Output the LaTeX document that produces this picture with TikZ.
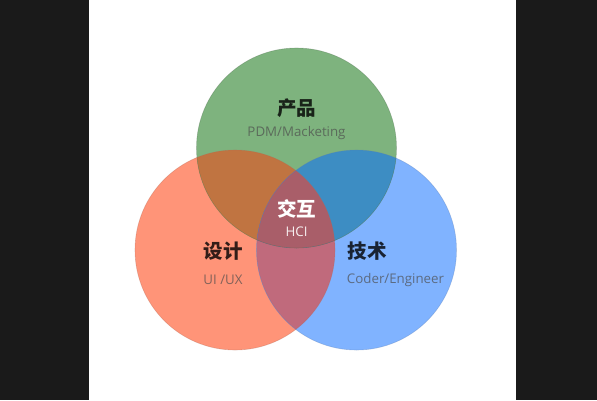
\documentclass[tikz,border=0pt]{standalone}
\usepackage{fontspec}
\setmainfont{Open Sans}
\newfontfamily\cjk{Noto Sans CJK SC}
\definecolor{barc}{HTML}{1A1A1A}
\definecolor{grn}{HTML}{7EB37E}
\definecolor{red}{HTML}{FF9478}
\definecolor{blu}{HTML}{80B3FF}
\definecolor{rg}{HTML}{C07441}
\definecolor{bg}{HTML}{3D8DC3}
\definecolor{rb}{HTML}{C06A7C}
\definecolor{ctr}{HTML}{A95E69}
\tikzset{
  title/.style={font=\cjk\bfseries\fontsize{19.5}{20}\selectfont, text=black, text opacity=0.8, inner sep=0pt},
  sub/.style={font=\fontsize{13.3}{15}\selectfont, text=black!70, text opacity=0.7, inner sep=0pt},
  edge/.style={line width=0.6pt, draw opacity=0.35}
}
\begin{document}
\begin{tikzpicture}[x=1pt,y=-1pt]
\useasboundingbox (0,0) rectangle (597,400);
\fill[barc] (0,0) rectangle (89,400);
\fill[white] (89,0) rectangle (516,400);
\fill[barc] (516,0) rectangle (597,400);
\coordinate (G) at (296.5,148);
\coordinate (R) at (235,250);
\coordinate (B) at (356.5,250);
\def\rad{100}
\fill[red] (R) circle (\rad);
\fill[blu] (B) circle (\rad);
\fill[grn] (G) circle (\rad);
\begin{scope}
  \clip (R) circle (\rad);
  \fill[rg] (G) circle (\rad);
  \fill[rb] (B) circle (\rad);
  \clip (B) circle (\rad);
  \fill[ctr] (G) circle (\rad);
\end{scope}
\begin{scope}
  \clip (B) circle (\rad);
  \fill[bg] (G) circle (\rad);
  \clip (R) circle (\rad);
  \fill[ctr] (G) circle (\rad);
\end{scope}
\draw[edge, draw=red!70!black] (R) circle (\rad);
\draw[edge, draw=blu!70!black] (B) circle (\rad);
\draw[edge, draw=grn!60!black] (G) circle (\rad);
\node[title] (t1) at (296.5,108) {产品};
\node[sub] (s1) at (296.5,133.5) {PDM/Macketing};
\node[title, text=white, text opacity=1] (t0) at (296.5,209) {交互};
\node[sub, text=white, text opacity=0.9] (s0) at (296.5,232) {HCI};
\node[title] (t2) at (223,251) {设计};
\node[sub] (s2) at (223,280) {UI /UX};
\node[title] (t3) at (367,251) {技术};
\node[sub] (s3) at (395.5,280) {Coder/Engineer};
\end{tikzpicture}
\end{document}
